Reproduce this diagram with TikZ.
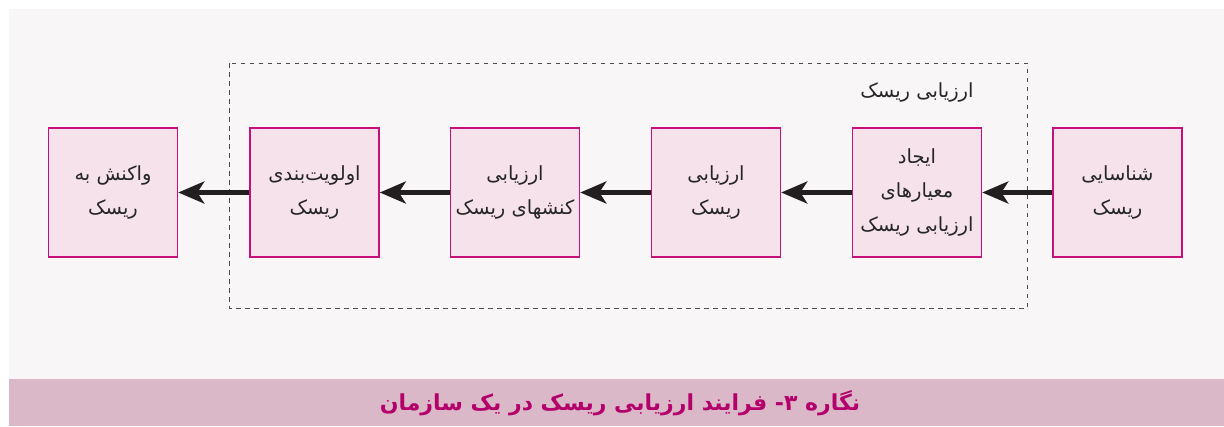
\documentclass[tikz,border=0pt]{standalone}
\usepackage{fontspec}
\usetikzlibrary{arrows.meta}
\TeXXeTstate=1
\newfontfamily\arabicfont[Script=Arabic]{DejaVu Sans}
\definecolor{panelbg}{HTML}{F8F6F7}
\definecolor{bandbg}{HTML}{DAB8C8}
\definecolor{boxfill}{HTML}{F5E2EA}
\definecolor{boxline}{HTML}{C8107A}
\definecolor{captxt}{HTML}{B4006A}
\definecolor{arrowcol}{HTML}{231F20}
\tikzset{
  stepbox/.style={draw=boxline, line width=1.6pt, fill=boxfill, minimum width=129pt, minimum height=129pt, inner sep=0pt, align=center, font=\arabicfont\fontsize{19.5}{34}\selectfont, text=black!85},
  flowarrow/.style={draw=arrowcol, line width=4.5pt, -{Stealth[length=26pt,width=22pt,inset=7pt]}},
  groupframe/.style={draw=black!70, line width=0.9pt, dash pattern=on 4.5pt off 4.5pt},
}
\begin{document}
\begin{tikzpicture}[x=1pt,y=-1pt]
\useasboundingbox (0,0) rectangle (1224,426);
\fill[white] (0,0) rectangle (1224,426);
\fill[panelbg] (9,9) rectangle (1224,379);
\fill[bandbg] (9,379) rectangle (1224,426);
\draw[groupframe] (229,63) rectangle (1027,308);
\node[font=\arabicfont\fontsize{19.5}{22}\selectfont, text=black!85] (grouplabel) at (917,92) {\beginR ارزیابی ریسک\endR};
\node[stepbox] (b1) at (113,192.5) {\beginR واکنش به\endR\\\beginR ریسک\endR};
\node[stepbox] (b2) at (314.5,192.5) {\beginR اولویت‌بندی\endR\\\beginR ریسک\endR};
\node[stepbox] (b3) at (515,192.5) {\beginR ارزیابی\endR\\\beginR کنشهای ریسک\endR};
\node[stepbox] (b4) at (716,192.5) {\beginR ارزیابی\endR\\\beginR ریسک\endR};
\node[stepbox] (b5) at (917,192.5) {\beginR ایجاد\endR\\\beginR معیارهای\endR\\\beginR ارزیابی ریسک\endR};
\node[stepbox] (b6) at (1117.5,192.5) {\beginR شناسایی\endR\\\beginR ریسک\endR};
\draw[flowarrow] (b6.west) -- (b5.east);
\draw[flowarrow] (b5.west) -- (b4.east);
\draw[flowarrow] (b4.west) -- (b3.east);
\draw[flowarrow] (b3.west) -- (b2.east);
\draw[flowarrow] (b2.west) -- (b1.east);
\node[font=\arabicfont\bfseries\fontsize{22}{26}\selectfont, text=captxt] (caption) at (620,403) {\beginR نگاره ۳- فرایند ارزیابی ریسک در یک سازمان\endR};
\end{tikzpicture}
\end{document}
